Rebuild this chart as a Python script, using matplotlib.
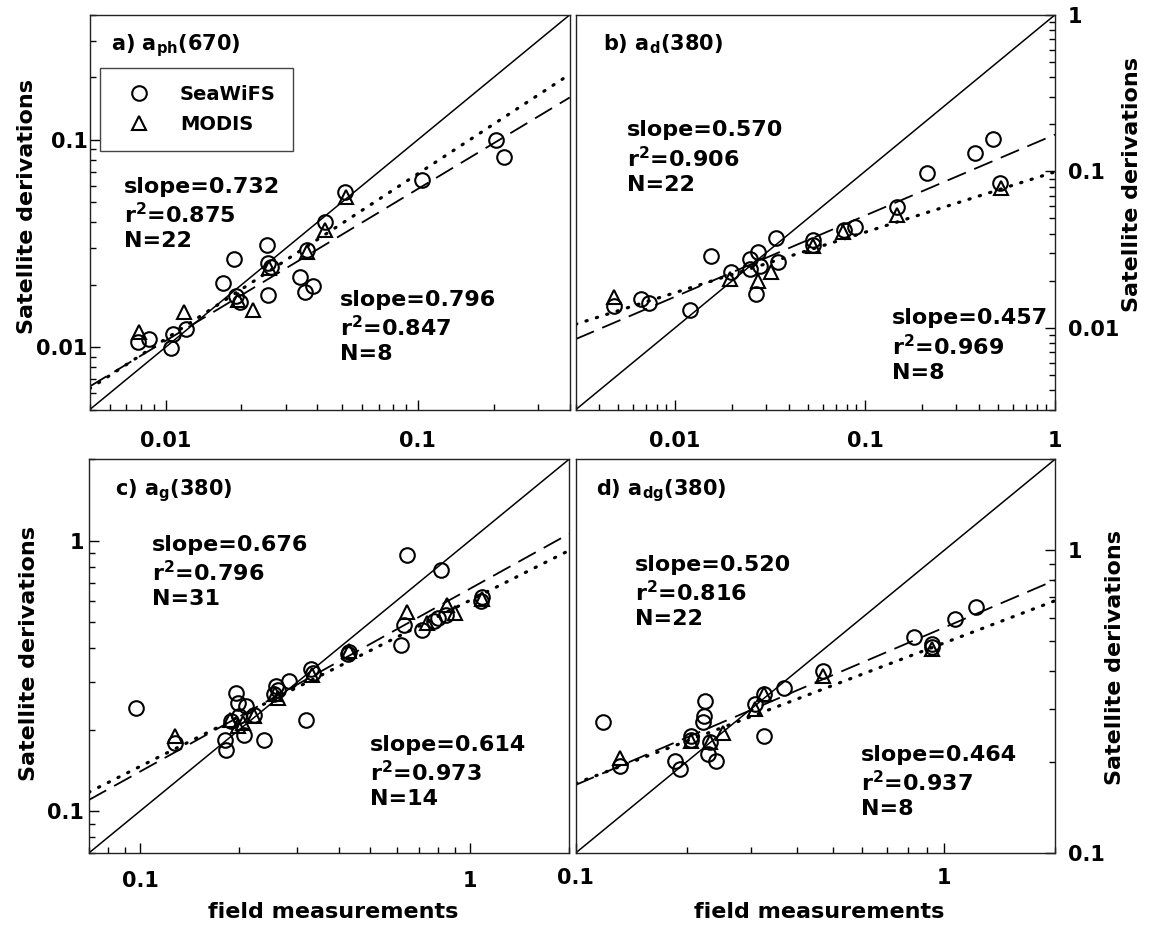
import matplotlib
matplotlib.use('Agg')
import matplotlib.pyplot as plt
import numpy as np
from matplotlib.ticker import FuncFormatter, NullFormatter

plt.rcParams['font.family'] = 'DejaVu Sans'
plt.rcParams['font.weight'] = 'bold'
plt.rcParams['mathtext.fontset'] = 'dejavusans'

# ---- panel a) a_ph(670) ----
a_sw_x = [0.204, 0.22, 0.1035, 0.0515, 0.043, 0.0363, 0.0252, 0.0255, 0.0186, 0.01695, 0.034,
          0.0357, 0.0383, 0.0255, 0.0190, 0.0197, 0.0121, 0.0107, 0.0105, 0.0086, 0.00775, 0.0262]
a_sw_y = [0.100, 0.083, 0.064, 0.056, 0.040, 0.0294, 0.0311, 0.0254, 0.0265, 0.0205, 0.0219,
          0.0185, 0.0197, 0.0178, 0.0176, 0.0166, 0.0123, 0.0116, 0.00987, 0.0110, 0.0106, 0.0245]
a_mo_x = [0.052, 0.043, 0.0363, 0.0257, 0.0193, 0.0222, 0.01185, 0.00783]
a_mo_y = [0.0532, 0.0367, 0.0289, 0.024, 0.0169, 0.0151, 0.0148, 0.0119]
a_fit_sw = (-0.505, 0.732)   # log10 intercept, slope (dashed)
a_fit_mo = (-0.368, 0.796)   # dotted

# ---- panel b) a_d(380) ----
b_sw_x = [0.47, 0.378, 0.211, 0.515, 0.147, 0.0886, 0.0773, 0.0531, 0.0341, 0.0273, 0.0247,
          0.0348, 0.01545, 0.0197, 0.0280, 0.0268, 0.012, 0.00732, 0.00662, 0.00478, 0.0247, 0.0531]
b_sw_y = [0.16, 0.131, 0.0975, 0.084, 0.0594, 0.0441, 0.042, 0.0362, 0.0375, 0.0305, 0.0276,
          0.0262, 0.0287, 0.0226, 0.025, 0.0164, 0.013, 0.0145, 0.0152, 0.0138, 0.0238, 0.034]
b_mo_x = [0.52, 0.147, 0.0762, 0.0531, 0.0321, 0.0273, 0.0194, 0.00478]
b_mo_y = [0.078, 0.0525, 0.041, 0.0336, 0.0226, 0.0200, 0.0205, 0.0158]
b_fit_sw = (-0.765, 0.518)
b_fit_mo = (-1.003, 0.386)

# ---- panel c) a_g(380) ----
c_sw_x = [0.646, 0.818, 1.086, 0.62, 0.716, 0.778, 0.85, 0.63, 0.43, 0.331, 0.284, 0.259, 0.262,
          0.319, 0.097, 0.196, 0.198, 0.210, 0.207, 0.237, 0.181, 0.182, 0.189, 0.222, 0.128,
          0.200, 0.255, 0.335, 0.428, 1.08, 0.80]
c_sw_y = [0.885, 0.78, 0.621, 0.41, 0.468, 0.505, 0.53, 0.489, 0.389, 0.335, 0.302, 0.289, 0.28,
          0.218, 0.241, 0.273, 0.251, 0.244, 0.192, 0.184, 0.184, 0.169, 0.215, 0.226, 0.178,
          0.225, 0.272, 0.325, 0.38, 0.60, 0.52]
c_mo_x = [1.086, 0.643, 0.741, 0.853, 0.903, 0.43, 0.333, 0.256, 0.222, 0.187, 0.198, 0.128, 0.205, 0.262]
c_mo_y = [0.61, 0.547, 0.495, 0.579, 0.539, 0.392, 0.319, 0.27, 0.224, 0.218, 0.206, 0.19, 0.212, 0.262]
c_fit_sw = (-0.178, 0.676)
c_fit_mo = (-0.221, 0.614)

# ---- panel d) a_dg(380) ----
d_sw_x = [1.22, 1.07, 0.83, 0.93, 0.469, 0.367, 0.324, 0.306, 0.324, 0.119, 0.224, 0.223, 0.221,
          0.206, 0.229, 0.241, 0.186, 0.192, 0.132, 0.231, 0.206, 0.93]
d_sw_y = [0.649, 0.594, 0.516, 0.49, 0.40, 0.35, 0.335, 0.31, 0.244, 0.272, 0.318, 0.284, 0.27,
          0.244, 0.212, 0.201, 0.201, 0.189, 0.194, 0.232, 0.236, 0.48]
d_mo_x = [0.93, 0.469, 0.324, 0.251, 0.231, 0.206, 0.132, 0.306]
d_mo_y = [0.472, 0.385, 0.335, 0.25, 0.232, 0.234, 0.206, 0.30]
d_fit_sw = (-0.255, 0.520)
d_fit_mo = (-0.306, 0.464)

titles = [r'a) a$_{\mathbf{ph}}$(670)', r'b) a$_{\mathbf{d}}$(380)',
          r'c) a$_{\mathbf{g}}$(380)', r'd) a$_{\mathbf{dg}}$(380)']
stats_sw = [('0.732', '0.875', '22'), ('0.570', '0.906', '22'),
            ('0.676', '0.796', '31'), ('0.520', '0.816', '22')]
stats_mo = [('0.796', '0.847', '8'), ('0.457', '0.969', '8'),
            ('0.614', '0.973', '14'), ('0.464', '0.937', '8')]
limits = [(0.005, 0.4), (0.003, 1.0), (0.07, 2.0), (0.1, 2.0)]

panels = [
    dict(sw=(a_sw_x, a_sw_y), mo=(a_mo_x, a_mo_y), fits=(a_fit_sw, a_fit_mo),
         rect=[0.0778, 0.5575, 0.4172, 0.4265], right=False, xlab=False,
         title_xy=(0.044, 0.911), top_xy=(0.072, 0.59), bot_xy=(0.522, 0.304),
         xpad=15, ypad=1.5, ylab_xy=(-0.11, 0.514)),
    dict(sw=(b_sw_x, b_sw_y), mo=(b_mo_x, b_mo_y), fits=(b_fit_sw, b_fit_mo),
         rect=[0.5001, 0.5575, 0.4165, 0.4265], right=True, xlab=False,
         title_xy=(0.058, 0.911), top_xy=(0.107, 0.733), bot_xy=(0.66, 0.257),
         xpad=15, ypad=9, ylab_xy=(1.14, 0.57)),
    dict(sw=(c_sw_x, c_sw_y), mo=(c_mo_x, c_mo_y), fits=(c_fit_sw, c_fit_mo),
         rect=[0.0772, 0.0788, 0.4172, 0.4252], right=False, xlab=True,
         title_xy=(0.054, 0.909), top_xy=(0.131, 0.808), bot_xy=(0.586, 0.30),
         xpad=13, ypad=3.5, ylab_xy=(-0.104, 0.508)),
    dict(sw=(d_sw_x, d_sw_y), mo=(d_mo_x, d_mo_y), fits=(d_fit_sw, d_fit_mo),
         rect=[0.5001, 0.0788, 0.4165, 0.4252], right=True, xlab=True,
         title_xy=(0.042, 0.909), top_xy=(0.124, 0.757), bot_xy=(0.596, 0.275),
         xpad=10.5, ypad=9, ylab_xy=(1.105, 0.496)),
]

fig = plt.figure(figsize=(11.51, 9.26), dpi=100)

for i, p in enumerate(panels):
    lo, hi = limits[i]
    ax = fig.add_axes(p['rect'])
    ax.set_xscale('log')
    ax.set_yscale('log')

    # 1:1 line and the two power-law fits
    ax.plot([lo, hi], [lo, hi], color='k', lw=1.1)
    xs = np.logspace(np.log10(lo), np.log10(hi), 100)
    f_sw, f_mo = p['fits']
    ax.plot(xs, 10 ** (f_sw[0] + f_sw[1] * np.log10(xs)), color='k', lw=1.3, dashes=(11, 5))
    ax.plot(xs, 10 ** (f_mo[0] + f_mo[1] * np.log10(xs)), color='k', lw=2.3,
            dashes=(0.4, 3), dash_capstyle='round')

    # data
    ax.plot(*p['sw'], 'o', ms=10.5, mfc='none', mec='k', mew=1.5, label='SeaWiFS')
    ax.plot(*p['mo'], '^', ms=10.5, mfc='none', mec='k', mew=1.5, label='MODIS')

    ax.set_xlim(lo, hi)
    ax.set_ylim(lo, hi)

    # ticks
    fmt = FuncFormatter(lambda v, pos: f'{v:g}')
    for axis in (ax.xaxis, ax.yaxis):
        axis.set_major_formatter(fmt)
        axis.set_minor_formatter(NullFormatter())
    ax.tick_params(which='both', direction='in', width=1, colors='k', labelsize=15)
    ax.tick_params(which='major', length=7)
    ax.tick_params(which='minor', length=4)
    ax.tick_params(axis='x', pad=p['xpad'])
    ax.tick_params(axis='y', pad=p['ypad'])
    if p['right']:
        ax.yaxis.tick_right()
        ax.yaxis.set_label_position('right')
    for s in ax.spines.values():
        s.set_color('#222222')
        s.set_linewidth(1)

    # labels
    ax.set_ylabel('Satellite derivations', fontsize=16, fontweight='bold')
    ax.yaxis.set_label_coords(*p['ylab_xy'])
    if p['xlab']:
        ax.set_xlabel('field measurements', fontsize=16, fontweight='bold')
        ax.xaxis.set_label_coords(0.508, -0.124)

    ax.text(*p['title_xy'], titles[i], transform=ax.transAxes, fontsize=15,
            fontweight='bold', va='baseline', ha='left')

    s1, r1, n1 = stats_sw[i]
    s2, r2, n2 = stats_mo[i]
    ax.text(*p['top_xy'], f'slope={s1}\n' + r'r$^{\mathbf{2}}$' + f'={r1}\nN={n1}',
            transform=ax.transAxes, fontsize=16, fontweight='bold', va='top', ha='left',
            linespacing=1.25)
    ax.text(*p['bot_xy'], f'slope={s2}\n' + r'r$^{\mathbf{2}}$' + f'={r2}\nN={n2}',
            transform=ax.transAxes, fontsize=16, fontweight='bold', va='top', ha='left',
            linespacing=1.25)

    if i == 0:
        leg = ax.legend(loc='upper left', bbox_to_anchor=(0.022, 0.866), borderaxespad=0,
                        fancybox=False, framealpha=1, edgecolor='#444444',
                        prop={'size': 14, 'weight': 'bold'}, handlelength=2.2,
                        handletextpad=1.0, borderpad=0.9, labelspacing=0.55)
        leg.get_frame().set_linewidth(1)

fig.savefig('out.png', dpi=100, facecolor='white')
